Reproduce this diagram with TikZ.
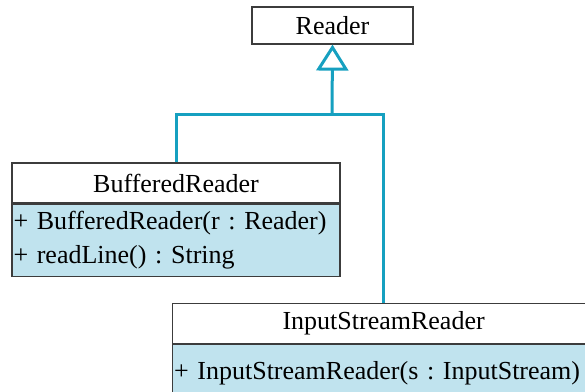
\documentclass[tikz,border=0pt]{standalone}
\usepackage{fontspec}
\setmainfont{Liberation Serif}
\usetikzlibrary{arrows.meta}
\frenchspacing
\definecolor{linkcol}{RGB}{22,160,192}
\definecolor{memberfill}{RGB}{192,227,238}
\definecolor{boxline}{RGB}{60,60,60}
\begin{document}
\begin{tikzpicture}[x=1pt,y=1pt,
  every node/.style={font=\fontsize{26}{34}\selectfont, text=black, inner sep=0pt},
  classhead/.style={draw=boxline, line width=1.2pt, fill=white, align=center},
  members/.style={draw=boxline, line width=1.2pt, fill=memberfill, align=left, text width=#1, inner xsep=1.5pt},
  conn/.style={draw=linkcol, line width=3pt, line join=miter}]
  \useasboundingbox (0,0) rectangle (585,391);
  \begin{scope}
  \clip (0,0) rectangle (585,391);
  % generalisation connectors
  \coordinate (join) at (332,276);
  \coordinate (tl) at (176,276);
  \coordinate (tr) at (383,276);
  \node[classhead, minimum width=161, minimum height=37] (reader) at (332.5,365.5) {Reader};
  \node[classhead, minimum width=328, minimum height=40] (bufhead) at (176,208) {BufferedReader};
  \node[members=325pt, minimum height=72, anchor=north west] (bufbody) at (bufhead.south west)
    {+ BufferedReader(r : Reader)\\+ readLine() : String};
  \node[classhead, minimum width=422, minimum height=40, anchor=north west] (isrhead) at (172,88) {InputStreamReader};
  \node[members=419pt, minimum height=56, anchor=north west] (isrbody) at (isrhead.south west)
    {+ InputStreamReader(s : InputStream)};
  \draw[conn] (bufhead.north) -- (tl) -- (tr) -- (tr |- isrhead.north);
  \draw[conn, -{Triangle[open, length=26pt, width=32pt, line width=3pt, fill=white]}]
    (join) -- (reader.south);
  \end{scope}
\end{tikzpicture}
\end{document}
